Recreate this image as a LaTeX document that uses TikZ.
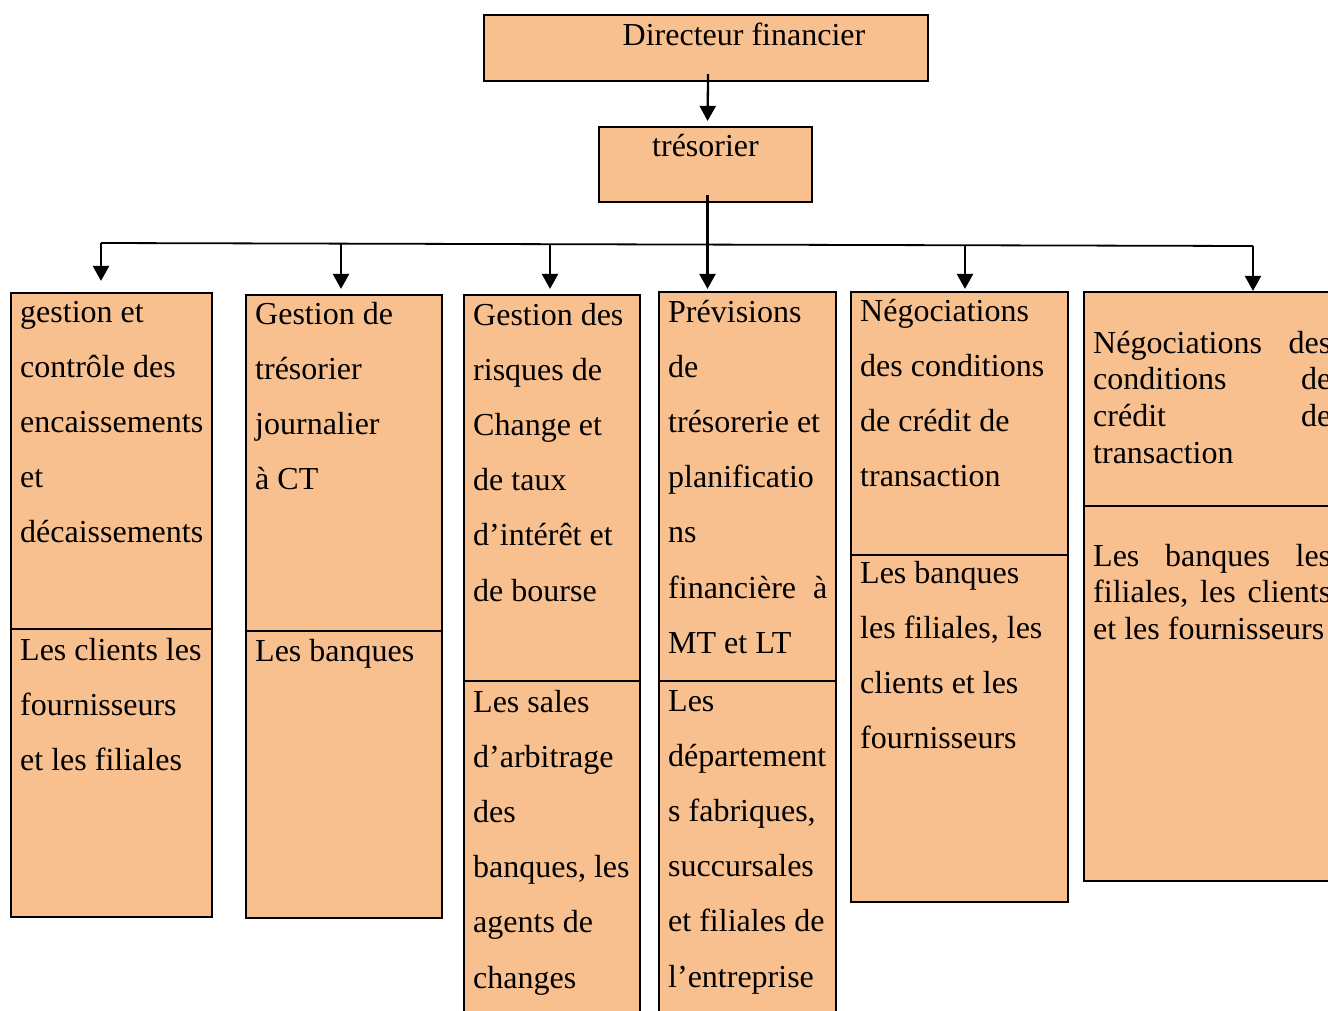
\documentclass[tikz,border=0pt]{standalone}
\usepackage{fontspec}
\setmainfont{Liberation Serif}
\usetikzlibrary{arrows.meta}
\definecolor{boxfill}{RGB}{248,191,143}
\hyphenpenalty=10000
\newcommand{\dbl}{\fontsize{32}{55.2}\selectfont}
\newcommand{\sgl}{\fontsize{32}{36.8}\selectfont}

\begin{document}
\begin{tikzpicture}[x=1pt,y=-1pt,
  box/.style={draw,line width=2.2pt,fill=boxfill,inner sep=0pt},
  txt/.style={anchor=base west,inner sep=0pt,align=flush left,font=\dbl},
  link/.style={line width=2.3pt,-{Triangle[width=16pt,length=15pt]}}]
\useasboundingbox (0,0) rectangle (1328,1010);
\clip (0,0) rectangle (1328,1010);
\node[box,minimum width=444pt,minimum height=66pt] (dir) at (706,48) {};
\node[box,minimum width=213pt,minimum height=75pt] (tres) at (705.5,164.5) {};
\node[box,minimum width=201pt,minimum height=336pt] (c1a) at (111.5,461) {};
\node[box,minimum width=201pt,minimum height=288pt] (c1b) at (111.5,773) {};
\node[box,minimum width=196pt,minimum height=336pt] (c2a) at (344,463) {};
\node[box,minimum width=196pt,minimum height=287pt] (c2b) at (344,774.5) {};
\node[box,minimum width=176pt,minimum height=386pt] (c3a) at (552,488) {};
\node[box,minimum width=176pt,minimum height=349pt] (c3b) at (552,855.5) {};
\node[box,minimum width=177pt,minimum height=389pt] (c4a) at (747.5,486.5) {};
\node[box,minimum width=177pt,minimum height=349pt] (c4b) at (747.5,855.5) {};
\node[box,minimum width=217pt,minimum height=263pt] (c5a) at (959.5,423.5) {};
\node[box,minimum width=217pt,minimum height=347pt] (c5b) at (959.5,728.5) {};
\node[box,minimum width=266pt,minimum height=214pt] (c6a) at (1217,399) {};
\node[box,minimum width=266pt,minimum height=375pt] (c6b) at (1217,693.5) {};

\node[anchor=base,inner sep=0pt,font=\dbl] (dirlbl) at (744,45) {Directeur financier};
\node[anchor=base,inner sep=0pt,font=\dbl] (treslbl) at (705.5,156) {trésorier};
\node[txt,text width=200pt] (t1a) at (20,322) {gestion et\\contrôle des\\encaissements\\et\\décaissements};
\node[txt,text width=200pt] (t1b) at (20,660) {Les clients les\\fournisseurs\\et les filiales};
\node[txt,text width=185pt] (t2a) at (255,324) {Gestion de\\trésorier\\journalier\\à CT};
\node[txt,text width=185pt] (t2b) at (255,661) {Les banques};
\node[txt,text width=165pt] (t3a) at (473,325) {Gestion des\\risques de\\Change et\\de taux\\d’intérêt et\\de bourse};
\node[txt,text width=165pt] (t3b) at (473,712) {Les sales\\d’arbitrage\\des\\banques, les\\agents de\\changes};
\node[txt,text width=159pt] (t4a) at (668,322) {Prévisions\\de\\trésorerie et\\planificatio\\ns\\financière\hfill à\\MT et LT};
\node[txt,text width=159pt] (t4b) at (668,711) {Les\\département\\s fabriques,\\succursales\\et filiales de\\l’entreprise};
\node[txt,text width=205pt] (t5a) at (860,321) {Négociations\\des conditions\\de crédit de\\transaction};
\node[txt,text width=205pt] (t5b) at (860,583) {Les banques\\les filiales, les\\clients et les\\fournisseurs};
\node[txt,font=\sgl,text width=238pt] (t6a) at (1093,353) {Négociations\hfill des\\conditions\hfill de\\crédit\hfill de\\transaction};
\node[txt,font=\sgl,text width=238pt] (t6b) at (1093,566) {Les\hfill banques\hfill les\\filiales,\hfill les\hfill clients\\et les fournisseurs};

\coordinate (busL) at (101,243);
\coordinate (bus2) at (341,243.5);
\coordinate (bus3) at (550,244);
\coordinate (bus5) at (965,245.3);
\coordinate (busR) at (1253,246);
\draw[line width=1.8pt] (busL) -- (busR);
\draw[link,shorten <=-8pt,shorten >=5pt] ([xshift=2pt]dir.south) -- ([xshift=2pt]tres.north);
\draw[link,shorten <=-8pt,shorten >=2pt] ([xshift=2pt]tres.south) -- ([xshift=2pt]tres.south |- c4a.north);
\draw[link,shorten >=11pt] (busL) -- (busL |- c1a.north);
\draw[link,shorten >=5pt] (bus2) -- (bus2 |- c2a.north);
\draw[link,shorten >=5pt] (bus3) -- (bus3 |- c3a.north);
\draw[link,shorten >=2pt] (bus5) -- (bus5 |- c5a.north);
\draw[link] (busR) -- (busR |- c6a.north);
\end{tikzpicture}
\end{document}
